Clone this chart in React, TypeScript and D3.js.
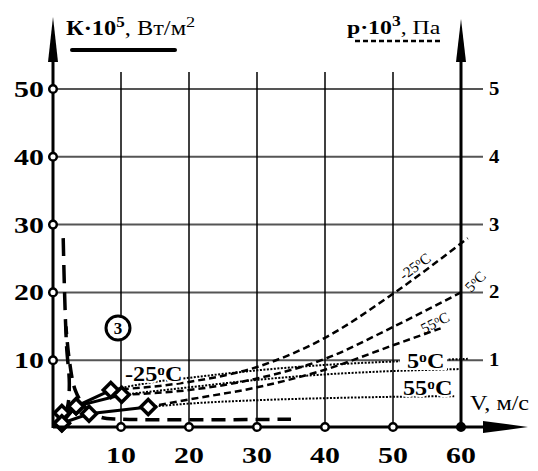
import React from "react";
import * as d3 from "d3";

// tick values
const vTicks = [10, 20, 30, 40, 50, 60];
const kTicks = [10, 20, 30, 40, 50];
const pTicks = [1, 2, 3, 4, 5];

// measured points (V, K)
const measM25 = [[1.3, 0.7], [3.4, 3.2], [8.5, 5.6]];
const meas5 = [[1.3, 2.2], [3.4, 3.2], [10.1, 4.9]];
const meas55 = [[1.3, 0.7], [5.3, 2.1], [14, 3.1]];

// K curves, dotted (V, K)
const kM25 = [[8.5, 5.6], [15, 6.8], [20, 7.4], [30, 8.5], [40, 9.3], [50, 9.8], [61, 10.2]];
const k5 = [[10.1, 4.9], [20, 6.0], [30, 7.1], [40, 7.9], [50, 8.4], [60, 8.7]];
const k55 = [[14, 3.1], [20, 3.6], [30, 4.1], [40, 4.4], [50, 4.6], [59, 4.7]];

// p curves, dashed (V, p)
const pM25 = [[8.5, 0.56], [20, 0.68], [30, 0.9], [40, 1.33], [50, 1.98], [61, 2.8]];
const p5 = [[10.1, 0.49], [20, 0.56], [30, 0.73], [40, 1.02], [50, 1.49], [60, 2.0]];
const p55 = [[14, 0.31], [20, 0.42], [30, 0.6], [40, 0.86], [50, 1.22], [57, 1.47]];

// long dashed curves (V, K)
const bigA = [[1.5, 28], [1.7, 20], [2.0, 12], [2.4, 6.5], [2.1, 3], [1.3, 1.4]];
const bigB = [[1.9, 15], [2.4, 10], [3.3, 5.5], [4.8, 3.0], [7, 1.6], [10, 1.3], [35, 1.3]];

const x = d3.scaleLinear().domain([0, 60]).range([53, 461]);
const yK = d3.scaleLinear().domain([0, 50]).range([428, 89]);
const yP = d3.scaleLinear().domain([0, 5]).range([428, 89]);

const lineK = d3.line<number[]>().x((d) => x(d[0])).y((d) => yK(d[1])).curve(d3.curveMonotoneX);
const lineP = d3.line<number[]>().x((d) => x(d[0])).y((d) => yP(d[1])).curve(d3.curveMonotoneX);
const lineStraight = d3.line<number[]>().x((d) => x(d[0])).y((d) => yK(d[1]));
const lineCR = d3.line<number[]>().x((d) => x(d[0])).y((d) => yK(d[1])).curve(d3.curveCatmullRom);

const FONT = "'Liberation Serif', 'Times New Roman', 'DejaVu Serif', serif";
const AXY = 427;
const SX = 1.3; // the source lettering is stretched horizontally

const Diamond = ({ cx, cy }: { cx: number; cy: number }) => (
  <path
    d={`M${cx},${cy - 7.5}L${cx + 7.5},${cy}L${cx},${cy + 7.5}L${cx - 7.5},${cy}Z`}
    fill="#fff"
    stroke="#000"
    strokeWidth={3.5}
  />
);

const Deg = ({ t }: { t: string }) => (
  <>
    {t}
    <tspan dy="-0.45em" fontSize="0.65em">o</tspan>
    <tspan dy="0.3em">C</tspan>
  </>
);

// stretched text placed at (x, y)
const T = ({ x: tx, y: ty, rot = 0, sx = SX, children, ...rest }: any) => (
  <text
    transform={`translate(${tx},${ty}) rotate(${rot}) scale(${sx},1)`}
    style={{ fontFamily: FONT }}
    {...rest}
  >
    {children}
  </text>
);

export default function App() {
  const allMeas = [measM25, meas5, meas55];
  return (
    <svg width={538} height={471} style={{ position: "absolute", left: 0, top: 0, background: "#fff" }}>
      {/* grid */}
      {kTicks.map((k) => (
        <line key={"h" + k} x1={x(0)} x2={483} y1={yK(k)} y2={yK(k)} stroke="#555" strokeWidth={2} />
      ))}
      {vTicks.slice(0, 5).map((v) => (
        <line key={"v" + v} x1={x(v)} x2={x(v)} y1={72} y2={AXY} stroke="#000" strokeWidth={1.5} />
      ))}

      {/* K dotted curves */}
      {[kM25, k5, k55].map((c, i) => (
        <path key={"k" + i} d={lineK(c) || ""} fill="none" stroke="#000" strokeWidth={2} strokeDasharray="2,1.5" />
      ))}
      {/* p dashed curves */}
      {[pM25, p5, p55].map((c, i) => (
        <path key={"p" + i} d={lineP(c) || ""} fill="none" stroke="#000" strokeWidth={2.5} strokeDasharray="7,4" />
      ))}
      {/* long dashed */}
      <path d={lineCR(bigA) || ""} fill="none" stroke="#000" strokeWidth={3.5} strokeDasharray="18,9" />
      <path d={lineCR(bigB) || ""} fill="none" stroke="#000" strokeWidth={3.5} strokeDasharray="14,8" strokeDashoffset={6} />

      {/* measured solid lines */}
      {allMeas.map((c, i) => (
        <path key={"m" + i} d={lineStraight(c) || ""} fill="none" stroke="#000" strokeWidth={3} />
      ))}
      {allMeas.flat().map((d, i) => (
        <Diamond key={"d" + i} cx={x(d[0])} cy={yK(d[1])} />
      ))}

      {/* axes */}
      <line x1={x(0)} x2={x(0)} y1={AXY + 1} y2={40} stroke="#000" strokeWidth={3} />
      <path d={`M${x(0)},17L${x(0) + 5},62L${x(0) - 5},62Z`} fill="#000" />
      <line x1={x(60)} x2={x(60)} y1={AXY + 1} y2={40} stroke="#000" strokeWidth={3} />
      <path d={`M${x(60)},19L${x(60) + 5},62L${x(60) - 5},62Z`} fill="#000" />
      <line x1={x(0)} x2={500} y1={AXY} y2={AXY} stroke="#000" strokeWidth={3} />
      <path d={`M528,${AXY}L483,${AXY - 6}L483,${AXY + 6}Z`} fill="#000" />

      {/* tick circles */}
      {kTicks.map((k) => (
        <circle key={"ck" + k} cx={x(0)} cy={yK(k)} r={3.8} fill="#fff" stroke="#000" strokeWidth={2.5} />
      ))}
      {vTicks.map((v) => (
        <circle key={"cv" + v} cx={x(v)} cy={AXY} r={3.8} fill={v === 60 ? "#000" : "#fff"} stroke="#000" strokeWidth={2.5} />
      ))}

      {/* tick labels */}
      {kTicks.map((k) => (
        <T key={"tk" + k} x={44} y={yK(k) + 8} textAnchor="end" fontSize={23} fontWeight="bold">{k}</T>
      ))}
      {pTicks.map((p) => (
        <T key={"tp" + p} x={489} y={yP(p) + 6} sx={1.15} fontSize={18} fontWeight="bold">{p}</T>
      ))}
      {vTicks.map((v) => (
        <T key={"tv" + v} x={x(v)} y={463} textAnchor="middle" fontSize={23} fontWeight="bold">{v}</T>
      ))}

      {/* titles */}
      <T x={66} y={35} sx={1.22} fontSize={20}>
        <tspan fontWeight="bold">К·10</tspan>
        <tspan fontWeight="bold" dy={-8} fontSize={14}>5</tspan>
        <tspan dy={8}>, Вт/м</tspan>
        <tspan dy={-8} fontSize={15}>2</tspan>
      </T>
      <line x1={72} x2={175} y1={50} y2={50} stroke="#000" strokeWidth={4} strokeLinecap="round" />
      <T x={347} y={34} sx={1.25} fontSize={19}>
        <tspan fontWeight="bold">р·10</tspan>
        <tspan fontWeight="bold" dy={-8} fontSize={14}>3</tspan>
        <tspan dy={8}>, Па</tspan>
      </T>
      <line x1={355} x2={442} y1={41} y2={41} stroke="#000" strokeWidth={2.5} strokeDasharray="5,3" />
      <T x={470} y={410} sx={1.15} fontSize={21}>V, м/с</T>

      {/* circled 3 */}
      <circle cx={118} cy={328} r={12} fill="#fff" stroke="#000" strokeWidth={3} />
      <T x={118} y={334} sx={1} textAnchor="middle" fontSize={17} fontWeight="bold">3</T>

      {/* curve labels */}
      <rect x={400} y={350} width={47} height={20} fill="#fff" />
      <T x={125} y={381} sx={1.1} fontSize={22} fontWeight="bold" stroke="#fff" strokeWidth={4} paintOrder="stroke"><Deg t="-25" /></T>
      <T x={407} y={368} sx={1.1} fontSize={22} fontWeight="bold"><Deg t="5" /></T>
      <T x={403} y={395} sx={1.1} fontSize={22} fontWeight="bold" stroke="#fff" strokeWidth={4} paintOrder="stroke"><Deg t="55" /></T>
      <T x={404} y={281} rot={-37} sx={1} fontSize={15}><Deg t="-25" /></T>
      <T x={471} y={293} rot={-45} sx={1} fontSize={15}><Deg t="5" /></T>
      <T x={424} y={334} rot={-27} sx={1} fontSize={15}><Deg t="55" /></T>
    </svg>
  );
}
